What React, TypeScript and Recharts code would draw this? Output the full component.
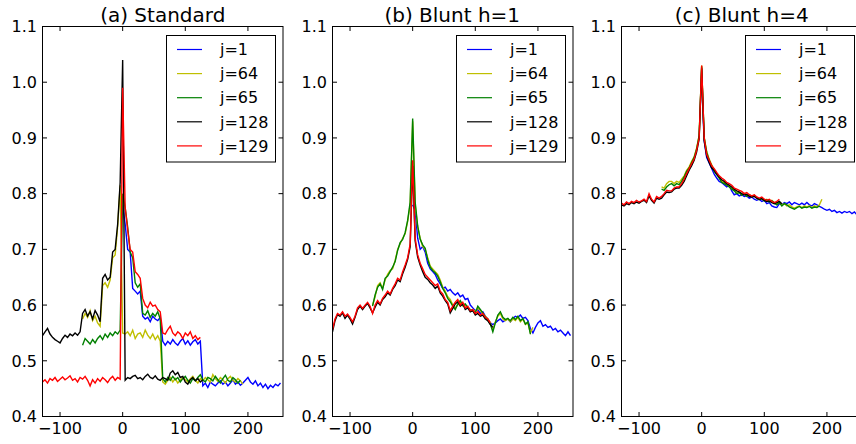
import React from "react";
import { LineChart, Line, XAxis, YAxis, Legend } from "recharts";

const X_DOMAIN: [number, number] = [-128, 256];
const Y_DOMAIN: [number, number] = [0.4, 1.1];
const X_TICKS = [-100, 0, 100, 200];
const Y_TICKS = [0.4, 0.5, 0.6, 0.7, 0.8, 0.9, 1.0, 1.1];

const SERIES_NAMES = ["j=1", "j=64", "j=65", "j=128", "j=129"];
const SERIES_COLORS = ["#0000ff", "#bfbf00", "#008000", "#000000", "#ff0000"];
// x of the first sample of each series; samples are STEP apart
const SERIES_START = [0, -64, -64, -128, -128];
const STEP = 4;

// (a) Standard
const A_J1 = [
  0.78, 0.745, 0.7, 0.695, 0.63, 0.625, 0.62, 0.625, 0.58, 0.575, 0.578, 0.57, 0.58, 0.575, 0.572, 0.578,
  0.535, 0.528, 0.535, 0.53, 0.538, 0.532, 0.528, 0.535, 0.54, 0.53, 0.536, 0.528, 0.534, 0.538, 0.53, 0.535,
  0.455, 0.46, 0.452, 0.462, 0.458, 0.455, 0.46, 0.464, 0.458, 0.462, 0.455, 0.46, 0.466, 0.458, 0.462, 0.456,
  0.46, 0.465, 0.47, 0.462, 0.458, 0.464, 0.455, 0.46, 0.452, 0.458, 0.45, 0.456, 0.452, 0.458, 0.455, 0.46,
];
const A_J64 = [
  0.575, 0.585, 0.578, 0.59, 0.572, 0.58, 0.568, 0.562,
  0.635, 0.64, 0.632, 0.645, 0.685, 0.69, 0.74, 0.815,
  0.55,
  0.548, 0.552, 0.545, 0.555, 0.54, 0.548, 0.55, 0.542, 0.555, 0.546, 0.54, 0.548, 0.538, 0.545, 0.535,
  0.462, 0.458, 0.465, 0.47, 0.462, 0.468, 0.46, 0.465, 0.47, 0.466, 0.462, 0.468, 0.472, 0.465, 0.46, 0.468,
  0.464, 0.47, 0.466, 0.462, 0.475, 0.468, 0.463, 0.47, 0.466, 0.46, 0.468, 0.472, 0.465, 0.462, 0.468, 0.464,
  0.458,
];
const A_J65 = [
  0.528, 0.54, 0.535, 0.53, 0.538, 0.532, 0.54, 0.545, 0.538, 0.548, 0.542, 0.55, 0.545, 0.552, 0.548, 0.555,
  0.8,
  0.775, 0.74, 0.695, 0.685, 0.64, 0.632, 0.638,
  0.585, 0.582, 0.59, 0.578, 0.585, 0.58, 0.588, 0.575,
  0.468, 0.462, 0.47, 0.465, 0.472, 0.466, 0.47, 0.462, 0.468, 0.472, 0.465, 0.46, 0.468, 0.464, 0.47, 0.475,
  0.466, 0.462, 0.47, 0.468, 0.464, 0.472, 0.466, 0.46, 0.468, 0.474, 0.465, 0.462, 0.47, 0.466, 0.46, 0.465,
];
const A_J128 = [
  0.545, 0.552, 0.558, 0.548, 0.542, 0.538, 0.535, 0.532, 0.54, 0.546, 0.542, 0.548, 0.545, 0.55, 0.546, 0.552,
  0.585, 0.592, 0.58, 0.588, 0.575, 0.59, 0.582, 0.57,
  0.648, 0.655, 0.645, 0.65, 0.695, 0.7, 0.745, 0.82,
  1.04,
  0.465, 0.47, 0.468, 0.472, 0.474, 0.468, 0.47, 0.466, 0.472, 0.476, 0.47, 0.468, 0.473, 0.467, 0.465, 0.47,
  0.468, 0.465, 0.478, 0.482, 0.475, 0.479, 0.47, 0.472, 0.462, 0.458, 0.466, 0.47, 0.464, 0.468, 0.462, 0.466,
];
const A_J129 = [
  0.462, 0.466, 0.46, 0.468, 0.465, 0.47, 0.463, 0.467, 0.471, 0.466, 0.469, 0.473, 0.465, 0.468, 0.462, 0.47,
  0.467, 0.472, 0.465, 0.455, 0.466, 0.46, 0.468, 0.463, 0.47, 0.466, 0.461, 0.468, 0.472, 0.465, 0.47, 0.467,
  0.99,
  0.775, 0.735, 0.7, 0.695, 0.66, 0.655, 0.648, 0.612, 0.6, 0.595, 0.605, 0.598, 0.6, 0.592, 0.588,
  0.55, 0.548, 0.556, 0.562, 0.55, 0.545, 0.552, 0.548, 0.54, 0.55, 0.545, 0.552, 0.54, 0.545, 0.538, 0.542,
];

// (b) Blunt h=1
const B_J1 = [
  0.78, 0.77, 0.72, 0.7, 0.705, 0.695, 0.675, 0.665, 0.66, 0.655, 0.645, 0.638, 0.63, 0.632, 0.625, 0.628,
  0.622, 0.618, 0.622, 0.615, 0.618, 0.61, 0.612, 0.6, 0.595, 0.59, 0.592, 0.585, 0.588, 0.58, 0.575, 0.568,
  0.565, 0.568, 0.572, 0.575, 0.57, 0.573, 0.575, 0.57, 0.576, 0.58, 0.578, 0.582, 0.576, 0.578, 0.572, 0.558,
  0.55, 0.56, 0.568, 0.572, 0.562, 0.565, 0.56, 0.562, 0.555, 0.558, 0.552, 0.555, 0.55, 0.545, 0.552, 0.545,
];
const B_J64 = [
  0.6, 0.615, 0.635, 0.64, 0.63, 0.645, 0.655, 0.662, 0.665, 0.68, 0.7, 0.71, 0.72, 0.728, 0.75, 0.78,
  0.93,
  0.78, 0.74, 0.72, 0.705, 0.7, 0.685, 0.67, 0.665, 0.66, 0.655, 0.645, 0.632, 0.625, 0.615, 0.61,
  0.6, 0.595, 0.6, 0.605, 0.598, 0.6, 0.595, 0.59, 0.592, 0.588, 0.595, 0.59, 0.585, 0.58, 0.575, 0.568,
  0.555, 0.57, 0.58, 0.585, 0.575, 0.572, 0.575, 0.57, 0.575, 0.572, 0.578, 0.57, 0.575, 0.565, 0.568, 0.55,
  0.56,
];
const B_J65 = [
  0.598, 0.618, 0.632, 0.638, 0.628, 0.648, 0.652, 0.66, 0.668, 0.678, 0.698, 0.712, 0.718, 0.73, 0.752, 0.785,
  0.935,
  0.785, 0.742, 0.718, 0.708, 0.702, 0.682, 0.668, 0.662, 0.658, 0.652, 0.642, 0.63, 0.622, 0.612, 0.606,
  0.598, 0.592, 0.602, 0.608, 0.6, 0.602, 0.596, 0.592, 0.59, 0.586, 0.598, 0.592, 0.586, 0.578, 0.572, 0.566,
  0.552, 0.568, 0.582, 0.588, 0.578, 0.574, 0.576, 0.572, 0.578, 0.574, 0.58, 0.572, 0.576, 0.566, 0.57, 0.548,
];
const B_J128 = [
  0.552, 0.572, 0.583, 0.58, 0.586, 0.576, 0.582, 0.575, 0.566, 0.578, 0.592, 0.598, 0.592, 0.598, 0.603, 0.595,
  0.586, 0.596, 0.605, 0.6, 0.61, 0.615, 0.622, 0.618, 0.628, 0.635, 0.645, 0.642, 0.656, 0.668, 0.682, 0.705,
  0.85,
  0.715, 0.686, 0.672, 0.66, 0.65, 0.646, 0.64, 0.636, 0.63, 0.634, 0.622, 0.616, 0.608, 0.602, 0.586,
  0.594, 0.602, 0.606, 0.598, 0.602, 0.592, 0.595, 0.588, 0.59, 0.582, 0.585, 0.58, 0.582, 0.575, 0.572, 0.565,
  0.56,
];
const B_J129 = [
  0.556, 0.575, 0.585, 0.582, 0.588, 0.58, 0.584, 0.578, 0.57, 0.58, 0.595, 0.6, 0.594, 0.6, 0.605, 0.598,
  0.585, 0.6, 0.608, 0.602, 0.612, 0.618, 0.625, 0.62, 0.63, 0.638, 0.648, 0.645, 0.66, 0.672, 0.685, 0.71,
  0.86,
  0.72, 0.69, 0.675, 0.665, 0.655, 0.65, 0.645, 0.64, 0.635, 0.638, 0.625, 0.62, 0.61, 0.605, 0.59,
  0.598, 0.605, 0.61, 0.6, 0.605, 0.595, 0.598, 0.59, 0.592, 0.585, 0.588, 0.582, 0.585, 0.578, 0.575, 0.568,
];

// (c) Blunt h=4
const C_J1 = [
  1.0, 0.895, 0.865, 0.855, 0.845, 0.835, 0.828, 0.822, 0.82, 0.816, 0.812, 0.815, 0.805, 0.798, 0.8, 0.796,
  0.798, 0.795, 0.796, 0.792, 0.794, 0.79, 0.788, 0.79, 0.786, 0.788, 0.782, 0.784, 0.778, 0.776, 0.775, 0.782,
  0.78, 0.784, 0.782, 0.785, 0.78, 0.784, 0.782, 0.78, 0.783, 0.78, 0.784, 0.78, 0.778, 0.782, 0.78, 0.777,
  0.775, 0.772, 0.77, 0.772, 0.768, 0.77, 0.766, 0.768, 0.765, 0.768, 0.766, 0.768, 0.764, 0.767, 0.762, 0.763,
];
const C_J64 = [
  0.812, 0.81, 0.818, 0.822, 0.822, 0.818, 0.822, 0.82, 0.826, 0.832, 0.842, 0.848, 0.858, 0.866, 0.882, 0.905,
  1.03,
  0.902, 0.876, 0.862, 0.852, 0.842, 0.836, 0.83, 0.822, 0.82, 0.816, 0.814, 0.81, 0.806, 0.802, 0.802,
  0.798, 0.8, 0.796, 0.798, 0.795, 0.796, 0.792, 0.79, 0.792, 0.788, 0.79, 0.786, 0.788, 0.784, 0.782, 0.785,
  0.78, 0.782, 0.778, 0.78, 0.776, 0.774, 0.776, 0.778, 0.775, 0.778, 0.776, 0.778, 0.775, 0.778, 0.776, 0.78,
  0.79,
];
const C_J65 = [
  0.808, 0.806, 0.812, 0.816, 0.818, 0.814, 0.818, 0.816, 0.822, 0.83, 0.84, 0.846, 0.856, 0.865, 0.88, 0.904,
  1.028,
  0.9, 0.874, 0.86, 0.85, 0.84, 0.834, 0.828, 0.82, 0.818, 0.815, 0.812, 0.808, 0.805, 0.8, 0.802,
  0.797, 0.8, 0.795, 0.798, 0.794, 0.797, 0.792, 0.789, 0.791, 0.787, 0.789, 0.785, 0.787, 0.783, 0.78, 0.784,
  0.778, 0.782, 0.78, 0.776, 0.774, 0.772, 0.775, 0.777, 0.774, 0.776, 0.775, 0.777, 0.774, 0.776, 0.775, 0.778,
];
const C_J128 = [
  0.78, 0.778, 0.782, 0.78, 0.784, 0.782, 0.785, 0.783, 0.786, 0.788, 0.784, 0.796, 0.788, 0.783, 0.792, 0.79,
  0.792, 0.798, 0.803, 0.802, 0.803, 0.808, 0.81, 0.81, 0.815, 0.822, 0.832, 0.842, 0.85, 0.86, 0.875, 0.898,
  1.025,
  0.895, 0.868, 0.856, 0.846, 0.842, 0.835, 0.83, 0.825, 0.822, 0.818, 0.815, 0.812, 0.808, 0.805, 0.803,
  0.8, 0.798, 0.799, 0.795, 0.794, 0.795, 0.792, 0.79, 0.791, 0.788, 0.786, 0.787, 0.784, 0.782, 0.784, 0.786,
  0.782,
];
const C_J129 = [
  0.783, 0.78, 0.785, 0.782, 0.786, 0.784, 0.788, 0.785, 0.787, 0.79, 0.786, 0.8, 0.79, 0.785, 0.795, 0.792,
  0.795, 0.8, 0.806, 0.805, 0.805, 0.81, 0.812, 0.812, 0.818, 0.826, 0.836, 0.845, 0.854, 0.862, 0.878, 0.9,
  1.03,
  0.9, 0.87, 0.86, 0.85, 0.845, 0.838, 0.832, 0.828, 0.825, 0.82, 0.818, 0.815, 0.81, 0.808, 0.806,
  0.804, 0.8, 0.802, 0.798, 0.796, 0.798, 0.794, 0.792, 0.794, 0.79, 0.788, 0.79, 0.786, 0.784, 0.786, 0.79,
];

const PANELS = [
  { title: "(a) Standard", series: [A_J1, A_J64, A_J65, A_J128, A_J129] },
  { title: "(b) Blunt h=1", series: [B_J1, B_J64, B_J65, B_J128, B_J129] },
  { title: "(c) Blunt h=4", series: [C_J1, C_J64, C_J65, C_J128, C_J129] },
];

// layout of one panel (matplotlib-like)
const CHART_W = 290;
const CHART_H = 444;
const PANEL_GAP = 289.5;
const PLOT_L = 42.5;
const PLOT_R = 283;
const PLOT_T = 26.5;
const PLOT_B = 416.5;
const TICK_LEN = 4.5;
const FONT = "'DejaVu Sans', sans-serif";

const fmtX = (v: number) => (v < 0 ? "\u2212" + Math.abs(v) : String(v));

const XTick = (props: any) => {
  const { x, payload } = props;
  return (
    <g>
      <line x1={x} x2={x} y1={PLOT_B} y2={PLOT_B - TICK_LEN} stroke="#000" />
      <line x1={x} x2={x} y1={PLOT_T} y2={PLOT_T + TICK_LEN} stroke="#000" />
      <text x={x} y={PLOT_B + 17.8} textAnchor="middle" fontSize={16} fontFamily={FONT} fill="#000">
        {fmtX(payload.value)}
      </text>
    </g>
  );
};

const YTick = (props: any) => {
  const { y, payload, index } = props;
  return (
    <g>
      {index === 0 && (
        // axes frame, matplotlib draws all four spines
        <rect
          x={PLOT_L}
          y={PLOT_T}
          width={PLOT_R - PLOT_L}
          height={PLOT_B - PLOT_T}
          fill="none"
          stroke="#000"
        />
      )}
      <line x1={PLOT_L} x2={PLOT_L + TICK_LEN} y1={y} y2={y} stroke="#000" />
      <line x1={PLOT_R - TICK_LEN} x2={PLOT_R} y1={y} y2={y} stroke="#000" />
      <text x={PLOT_L - 5.5} y={y} dy="0.36em" textAnchor="end" fontSize={16} fontFamily={FONT} fill="#000">
        {payload.value.toFixed(1)}
      </text>
    </g>
  );
};

const LegendBox = (props: any) => {
  const items = [...(props.payload || [])].sort(
    (a: any, b: any) => SERIES_NAMES.indexOf(a.value) - SERIES_NAMES.indexOf(b.value)
  );
  return (
    <svg width={110} height={128} style={{ display: "block" }}>
      <rect x={0.5} y={0.5} width={109} height={126.5} fill="#fff" stroke="#000" />
      {items.map((item: any, i: number) => {
        const y = 14.5 + i * 24.1;
        return (
          <g key={item.value}>
            <line x1={11} x2={36} y1={y} y2={y} stroke={item.color || SERIES_COLORS[i]} strokeWidth={1.2} />
            <text x={54} y={y} dy="0.36em" fontSize={16} fontFamily={FONT} fill="#000">
              {item.value}
            </text>
          </g>
        );
      })}
    </svg>
  );
};

const Panel = ({ title, series }: { title: string; series: number[][] }) => (
  <div style={{ position: "relative", width: CHART_W, height: CHART_H }}>
    <div
      style={{
        position: "absolute",
        left: PLOT_L,
        width: PLOT_R - PLOT_L,
        top: 3,
        textAlign: "center",
        fontFamily: FONT,
        fontSize: 20,
        color: "#000",
        whiteSpace: "nowrap",
      }}
    >
      {title}
    </div>
    <LineChart
      width={CHART_W}
      height={CHART_H}
      margin={{ top: PLOT_T, right: CHART_W - PLOT_R, bottom: 0, left: 0.5 }}
    >
      <XAxis
        type="number"
        dataKey="x"
        domain={X_DOMAIN}
        ticks={X_TICKS}
        interval={0}
        allowDataOverflow
        height={CHART_H - PLOT_B}
        tickLine={false}
        axisLine={false}
        tick={(p: any) => <XTick {...p} />}
      />
      <YAxis
        type="number"
        domain={Y_DOMAIN}
        ticks={Y_TICKS}
        interval={0}
        allowDataOverflow
        width={PLOT_L - 0.5}
        tickLine={false}
        axisLine={false}
        tick={(p: any) => <YTick {...p} />}
      />
      {series.map((values, k) => (
        <Line
          key={SERIES_NAMES[k]}
          name={SERIES_NAMES[k]}
          data={values.map((v, i) => ({ x: SERIES_START[k] + i * STEP, y: v }))}
          dataKey="y"
          type="linear"
          stroke={SERIES_COLORS[k]}
          strokeWidth={1.4}
          dot={false}
          activeDot={false}
          isAnimationActive={false}
        />
      ))}
      <Legend
        layout="horizontal"
        verticalAlign="middle"
        align="center"
        wrapperStyle={{ left: PLOT_L + 123.5, top: 35, width: 110, height: 128 }}
        content={(p: any) => <LegendBox {...p} />}
      />
    </LineChart>
  </div>
);

export default function App() {
  return (
    <div
      style={{
        position: "absolute",
        left: 0,
        top: 0,
        width: 856,
        height: 444,
        overflow: "hidden",
        background: "#fff",
      }}
    >
      {PANELS.map((p, i) => (
        <div key={p.title} style={{ position: "absolute", left: i * PANEL_GAP, top: 0 }}>
          <Panel title={p.title} series={p.series} />
        </div>
      ))}
    </div>
  );
}
